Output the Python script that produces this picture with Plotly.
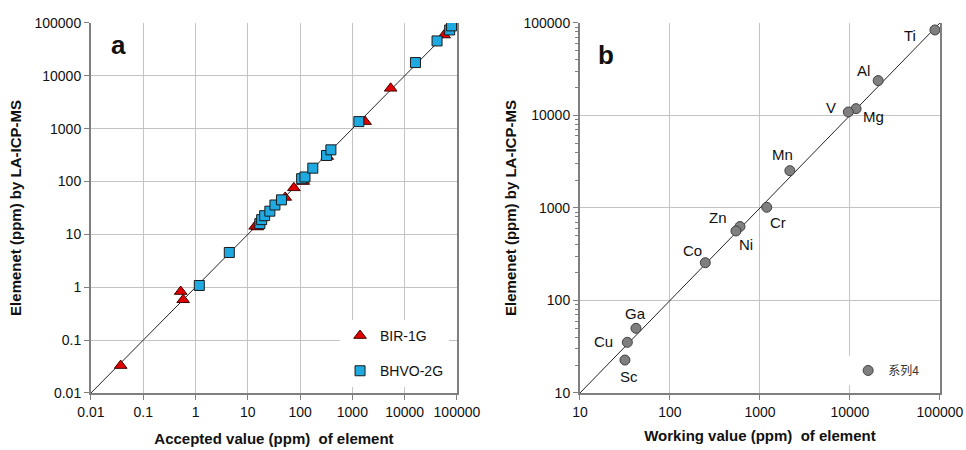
import math
import plotly.graph_objects as go

# ---------------- data ----------------
bir_accepted = [0.037, 0.52, 0.58, 13.8, 15.2, 52, 76, 115, 330, 1750, 5400, 57000, 95000]
bir_measured = [0.033, 0.83, 0.58, 14.2, 13.8, 50, 76, 100, 297, 1360, 5800, 59000, 95000]

bhvo_accepted = [1.18, 4.42, 17, 18.4, 21, 26.4, 33, 44, 107, 124, 175, 321, 388, 1330, 16100, 41700, 72700, 79000]
bhvo_measured = [1.08, 4.55, 16, 19, 22.6, 27.5, 36, 45, 113, 122, 179, 311, 398, 1360, 17800, 45700, 73700, 88000]

elements = ["Ti", "Al", "Mg", "V", "Mn", "Cr", "Zn", "Ni", "Co", "Ga", "Cu", "Sc"]
working = [88000, 20600, 11700, 9600, 2150, 1190, 600, 541, 247, 41.9, 33.6, 31.6]
measured_b = [84000, 23800, 11850, 10900, 2530, 1017, 630, 564, 256, 50, 35.3, 22.7]

line_a = [0.01, 100000]
line_b = [10, 100000]

ticks_a = [0.01, 0.1, 1, 10, 100, 1000, 10000, 100000]
ticks_a_text = ["0.01", "0.1", "1", "10", "100", "1000", "10000", "100000"]
ticks_b = [10, 100, 1000, 10000, 100000]
ticks_b_text = ["10", "100", "1000", "10000", "100000"]
minor_b = [m * d for d in (10, 100, 1000, 10000) for m in range(2, 10)]

# label offsets (pixels) for element names in panel b: (dx, dy up)
label_offsets = {
    "Ti": (-25, -6), "Al": (-15, 10), "Mg": (17, -8), "V": (-17, 5), "Mn": (-7, 16),
    "Cr": (11, -15), "Zn": (-22, 9), "Ni": (10, -14), "Co": (-13, 12), "Ga": (0, 15),
    "Cu": (-24, 1), "Sc": (4, -16),
}

FONT = "Liberation Sans, Arial, sans-serif"
GRID = "#c4c4c4"
AXIS = "#7f7f7f"

fig = go.Figure()

# ---- panel a ----
fig.add_trace(go.Scatter(x=line_a, y=line_a, mode="lines", line=dict(color="#222", width=1),
                         showlegend=False, xaxis="x", yaxis="y", hoverinfo="skip"))
fig.add_trace(go.Scatter(x=bir_accepted, y=bir_measured, mode="markers", name="BIR-1G",
                         marker=dict(symbol="triangle-up", size=11, color="#e00000",
                                     line=dict(color="#400000", width=1)),
                         xaxis="x", yaxis="y", legend="legend", legendgroup="bir"))
fig.add_trace(go.Scatter(x=bhvo_accepted, y=bhvo_measured, mode="markers", name="BHVO-2G",
                         marker=dict(symbol="square", size=10, color="#1fa9e1",
                                     line=dict(color="#1a1a1a", width=1)),
                         xaxis="x", yaxis="y", legend="legend", legendgroup="bhvo"))

# ---- panel b ----
fig.add_trace(go.Scatter(x=line_b, y=line_b, mode="lines", line=dict(color="#222", width=1),
                         showlegend=False, xaxis="x2", yaxis="y2", hoverinfo="skip"))
fig.add_trace(go.Scatter(x=working, y=measured_b, mode="markers", name="系列4",
                         marker=dict(symbol="circle", size=10, color="#7f7f7f",
                                     line=dict(color="#404040", width=1)),
                         xaxis="x2", yaxis="y2", legend="legend2"))

annotations = []
for el, xv, yv in zip(elements, working, measured_b):
    dx, dy = label_offsets[el]
    # annotations on log axes take log10 coordinates
    annotations.append(dict(text=el, x=math.log10(xv), y=math.log10(yv), xref="x2", yref="y2",
                            showarrow=False, xshift=dx, yshift=dy,
                            font=dict(family=FONT, size=15, color="#111")))

annotations += [
    dict(text="<b>a</b>", x=0.113, y=0.899, xref="paper", yref="paper", showarrow=False,
         xanchor="left", yanchor="middle", font=dict(family=FONT, size=26, color="#111")),
    dict(text="<b>b</b>", x=0.617, y=0.878, xref="paper", yref="paper", showarrow=False,
         xanchor="left", yanchor="middle", font=dict(family=FONT, size=26, color="#111")),
]

common_axis = dict(type="log", showgrid=True, gridcolor=GRID, gridwidth=1, showline=True,
                   linecolor=AXIS, linewidth=2, ticks="outside", ticklen=5, tickcolor=AXIS,
                   tickmode="array", automargin=False,
                   tickfont=dict(family=FONT, size=14, color="#111"), zeroline=False)

fig.update_layout(
    width=966, height=450,
    margin=dict(l=0, r=0, t=0, b=0),
    paper_bgcolor="white", plot_bgcolor="white",
    xaxis=dict(common_axis, domain=[0.0942, 0.473], range=[-2, 5], tickvals=ticks_a, ticktext=ticks_a_text,
               anchor="y",
               title=dict(text="<b>Accepted value (ppm)  of element</b>", font=dict(family=FONT, size=15, color="#111"),
                          standoff=15)),
    yaxis=dict(common_axis, domain=[0.1267, 0.949], range=[-2, 5], tickvals=ticks_a, ticktext=ticks_a_text,
               anchor="x", mirror=True,
               title=dict(text="<b>Elemenet (ppm) by LA-ICP-MS</b>", font=dict(family=FONT, size=15, color="#111"),
                          standoff=9)),
    xaxis2=dict(common_axis, domain=[0.6004, 0.973], range=[1, 5], tickvals=ticks_b, ticktext=ticks_b_text,
                anchor="y2",
                title=dict(text="<b>Working value (ppm)  of element</b>", font=dict(family=FONT, size=15, color="#111"),
                           standoff=12)),
    yaxis2=dict(common_axis, domain=[0.1267, 0.949], range=[1, 5], tickvals=ticks_b, ticktext=ticks_b_text,
                anchor="x2", mirror=True,
                minor=dict(tickmode="array", tickvals=minor_b, ticks="outside", ticklen=3,
                           tickcolor=AXIS, showgrid=False),
                title=dict(text="<b>Elemenet (ppm) by LA-ICP-MS</b>", font=dict(family=FONT, size=15, color="#111"),
                           standoff=3)),
    legend=dict(x=0.352, y=0.289, xanchor="left", yanchor="top", bgcolor="white",
                font=dict(family=FONT, size=14, color="#111"), traceorder="grouped",
                tracegroupgap=14, itemwidth=30),
    legend2=dict(x=0.878, y=0.209, xanchor="left", yanchor="top", bgcolor="white",
                 font=dict(family="Noto Sans CJK SC, sans-serif", size=12, color="#333"), itemwidth=30),
    annotations=annotations,
)

fig.write_html("out.html", config={"displayModeBar": False},
               post_script="document.body.style.margin='0';")
